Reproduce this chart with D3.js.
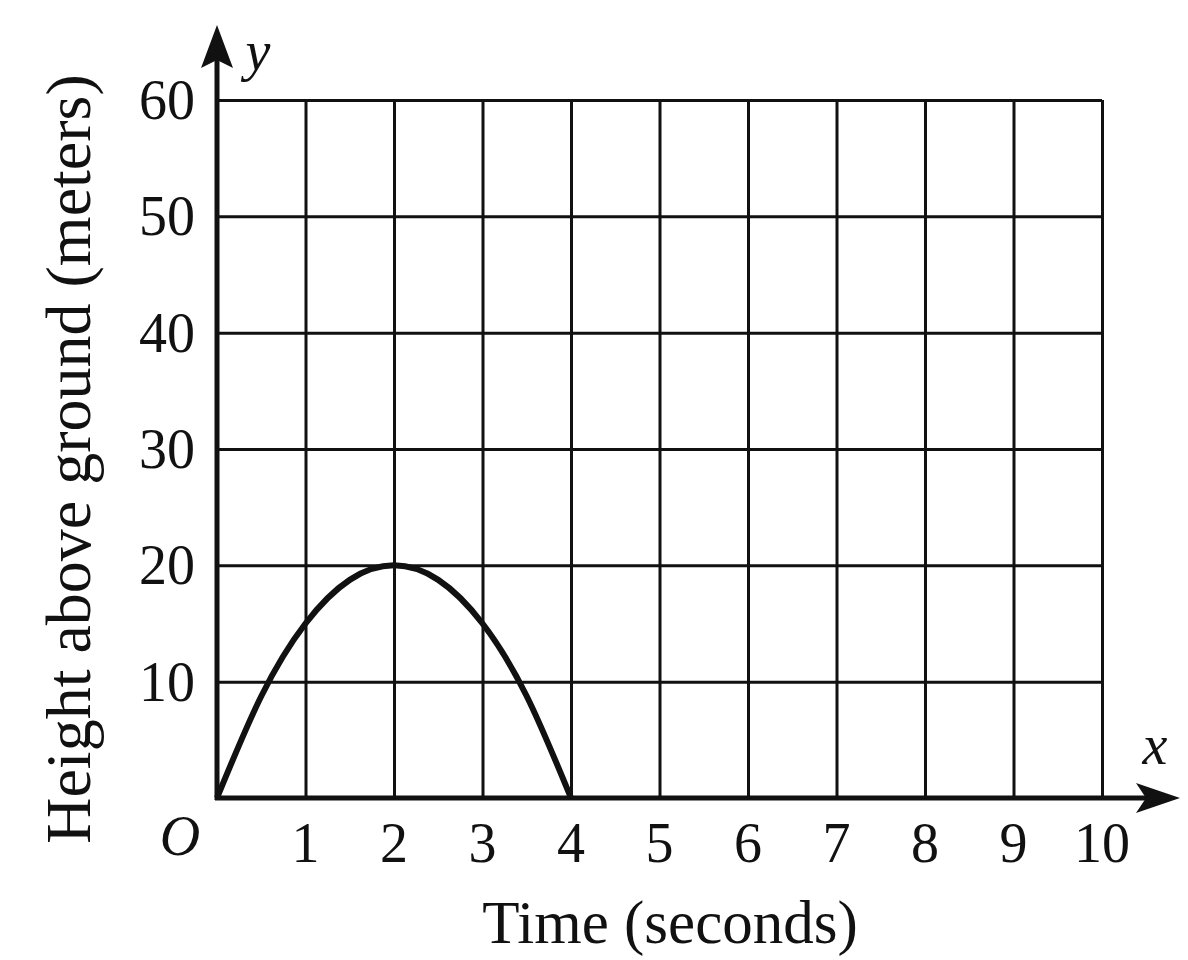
<!DOCTYPE html>
<html>
<head>
<meta charset="utf-8">
<script src="https://cdn.jsdelivr.net/npm/d3@7"></script>
<style>
  html, body { margin: 0; padding: 0; background: #fff; }
  svg { display: block; }
  text { font-family: "Liberation Serif", "DejaVu Serif", serif; fill: #111; }
</style>
</head>
<body>
<script>
(function () {
  'use strict';

  // time in seconds and height above ground in meters
  const times = [0, 0.5, 1, 1.5, 2, 2.5, 3, 3.5, 4];
  const heights = [0, 8.75, 15, 18.75, 20, 18.75, 15, 8.75, 0];

  const xTicks = [1, 2, 3, 4, 5, 6, 7, 8, 9, 10];
  const yTicks = [10, 20, 30, 40, 50, 60];
  const xTitle = 'Time (seconds)';
  const yTitle = 'Height above ground (meters)';

  const W = 1188, H = 960;

  const svg = d3.select('body')
    .append('svg')
    .attr('width', W)
    .attr('height', H);

  const xScale = d3.scaleLinear().domain([0, 10]).range([217, 1102]);
  const yScale = d3.scaleLinear().domain([0, 60]).range([798, 100]);

  // ---- grid ----
  svg.append('g')
    .attr('class', 'grid')
    .attr('transform', `translate(0,${yScale(0)})`)
    .call(d3.axisBottom(xScale).tickValues(xTicks)
      .tickSize(-(yScale(0) - yScale(60))).tickFormat(''))
    .call(g => g.select('.domain').remove())
    .call(g => g.selectAll('line').attr('stroke', '#111').attr('stroke-width', 3));

  svg.append('g')
    .attr('class', 'grid')
    .attr('transform', `translate(${xScale(0)},0)`)
    .call(d3.axisLeft(yScale).tickValues(yTicks)
      .tickSize(-(xScale(10) - xScale(0))).tickFormat(''))
    .call(g => g.select('.domain').remove())
    .call(g => g.selectAll('line').attr('stroke', '#111').attr('stroke-width', 3));

  // ---- axes with arrows ----
  const x0 = xScale(0), y0 = yScale(0);
  svg.append('line')
    .attr('x1', x0).attr('y1', y0 + 2)
    .attr('x2', x0).attr('y2', 50)
    .attr('stroke', '#111').attr('stroke-width', 5);
  svg.append('path')
    .attr('d', `M${x0},25 L${x0 + 16},68 L${x0},60 L${x0 - 16},68 Z`)
    .attr('fill', '#111');

  svg.append('line')
    .attr('x1', x0 - 2).attr('y1', y0)
    .attr('x2', 1160).attr('y2', y0)
    .attr('stroke', '#111').attr('stroke-width', 5);
  svg.append('path')
    .attr('d', `M1180,${y0} L1136,${y0 - 15} L1146,${y0} L1136,${y0 + 15} Z`)
    .attr('fill', '#111');

  // ---- tick labels ----
  svg.append('g')
    .selectAll('text')
    .data(xTicks)
    .join('text')
    .attr('x', d => xScale(d))
    .attr('y', 862)
    .attr('text-anchor', 'middle')
    .attr('font-size', 56)
    .text(d => d);

  svg.append('g')
    .selectAll('text')
    .data(yTicks)
    .join('text')
    .attr('x', 195)
    .attr('y', d => yScale(d) + 19)
    .attr('text-anchor', 'end')
    .attr('font-size', 56)
    .text(d => d);

  svg.append('text')
    .attr('x', 180).attr('y', 855)
    .attr('text-anchor', 'middle')
    .attr('font-style', 'italic')
    .attr('font-size', 56)
    .text('O');

  svg.append('text')
    .attr('x', 258).attr('y', 70)
    .attr('text-anchor', 'middle')
    .attr('font-style', 'italic')
    .attr('font-size', 56)
    .text('y');

  svg.append('text')
    .attr('x', 1155).attr('y', 764)
    .attr('text-anchor', 'middle')
    .attr('font-style', 'italic')
    .attr('font-size', 56)
    .text('x');

  // ---- axis titles ----
  svg.append('text')
    .attr('x', 670).attr('y', 943)
    .attr('text-anchor', 'middle')
    .attr('font-size', 61)
    .text(xTitle);

  svg.append('text')
    .attr('transform', `translate(90,${(80 + 838) / 2}) rotate(-90)`)
    .attr('text-anchor', 'middle')
    .attr('font-size', 64)
    .text(yTitle);

  // ---- curve ----
  const line = d3.line()
    .x((d, i) => xScale(times[i]))
    .y(d => yScale(d))
    .curve(d3.curveNatural);

  svg.append('path')
    .datum(heights)
    .attr('d', line)
    .attr('fill', 'none')
    .attr('stroke', '#111')
    .attr('stroke-width', 6)
    .attr('stroke-linejoin', 'round');
})();
</script>
</body>
</html>
